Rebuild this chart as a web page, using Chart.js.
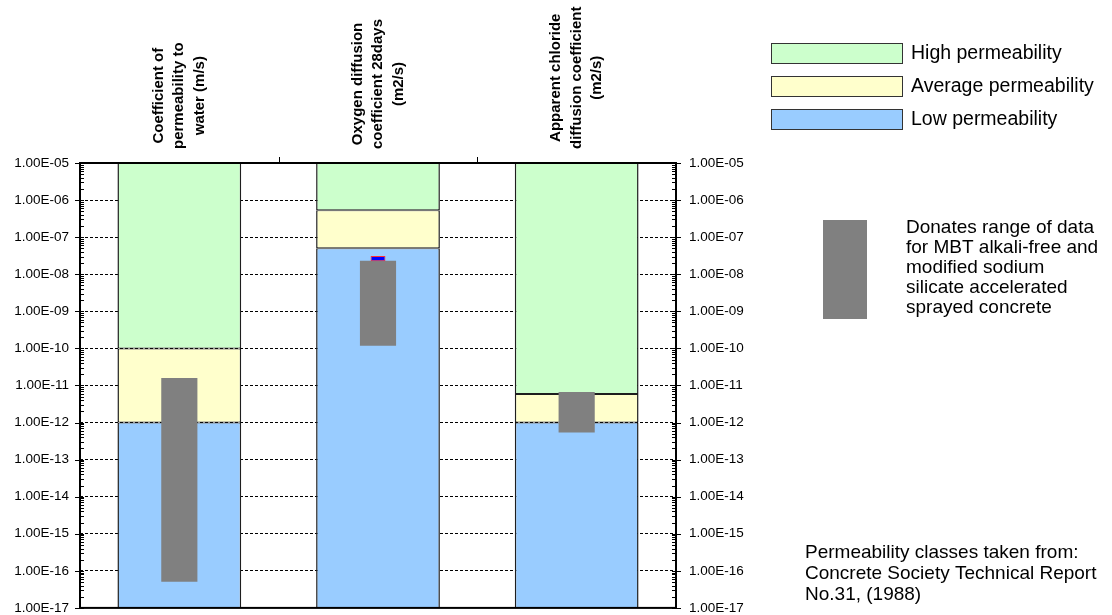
<!DOCTYPE html>
<html>
<head>
<meta charset="utf-8">
<script src="https://cdn.jsdelivr.net/npm/chart.js@4.4.1/dist/chart.umd.min.js"></script>
<style>
  html, body { margin: 0; background: #fff; overflow: hidden; }
  #wrap { width: 1112px; height: 615px; overflow: hidden; }
</style>
</head>
<body>
<div id="wrap"><canvas id="chart" width="1112" height="629"></canvas></div>
<script>
// categories (drawn rotated above the plot)
var categories = [
    ["Coefficient of", "permeability to", "water (m/s)"],
    ["Oxygen diffusion", "coefficient 28days", "(m2/s)"],
    ["Apparent chloride", "diffusion coefficient", "(m2/s)"]
];
var axisMin = 1e-17;
var axisMax = 1e-5;
var yTicks = [1e-5, 1e-6, 1e-7, 1e-8, 1e-9, 1e-10, 1e-11, 1e-12, 1e-13, 1e-14, 1e-15, 1e-16, 1e-17];

// permeability class boundaries
var lowTop = [1e-12, 5.0e-8, 1e-12];
var averageTop = [1e-10, 5.3e-7, 5.9e-12];

// measured data range (grey)
var rangeLow = [5.1e-17, 1.18e-10, 5.4e-13];
var rangeHigh = [1.6e-11, 2.3e-8, 6.7e-12];

// small blue mark on the oxygen bar
var markLow = [null, 2.25e-8, null];
var markHigh = [null, 3.1e-8, null];

var noteText = ["Donates range of data", "for MBT alkali-free and", "modified sodium",
    "silicate accelerated", "sprayed concrete"];
var sourceText = ["Permeability classes taken from:", "Concrete Society Technical Report",
    "No.31, (1988)"];

var FONT = '"Liberation Sans", Arial, sans-serif';

function pairs(a, b) {
    return a.map(function (v, i) { return v === null ? null : [v, b[i]]; });
}
function fmtTick(v) {
    var e = Math.round(Math.log10(v));
    return "1.00E-" + String(-e).padStart(2, "0");
}

var lowBand = lowTop.map(function (v) { return [axisMin, v]; });
var avgBand = pairs(lowTop, averageTop);
var highBand = averageTop.map(function (v) { return [v, axisMax]; });

var bandStyle = {
    grouped: false, barPercentage: 0.623, categoryPercentage: 1,
    borderColor: "#1e1e1e", borderWidth: { left: 1.5, right: 1.5, top: 1, bottom: 1 },
    borderSkipped: false
};

var decor = {
    id: "decor",
    afterDraw: function (chart) {
        var ctx = chart.ctx, a = chart.chartArea, y = chart.scales.y, x = chart.scales.x;
        ctx.save();
        ctx.strokeStyle = "#000";
        ctx.lineWidth = 1;
        ctx.beginPath();
        // minor ticks
        for (var e = -17; e < -5; e++) {
            for (var k = 2; k <= 9; k++) {
                var py = Math.round(y.getPixelForValue(k * Math.pow(10, e))) + 0.5;
                ctx.moveTo(a.left, py); ctx.lineTo(a.left + 4, py);
                ctx.moveTo(a.right - 4, py); ctx.lineTo(a.right, py);
            }
        }
        // major ticks
        yTicks.forEach(function (v) {
            var py = Math.round(y.getPixelForValue(v)) + 0.5;
            ctx.moveTo(a.left - 5, py); ctx.lineTo(a.left + 4, py);
            ctx.moveTo(a.right - 4, py); ctx.lineTo(a.right + 5, py);
        });
        // ticks between categories on top
        for (var i = 1; i < categories.length; i++) {
            var px = Math.round((x.getPixelForValue(i - 1) + x.getPixelForValue(i)) / 2) + 0.5;
            ctx.moveTo(px, a.top); ctx.lineTo(px, a.top - 6);
        }
        ctx.stroke();
        ctx.lineWidth = 2;
        ctx.strokeRect(a.left, a.top, a.right - a.left, a.bottom - a.top);

        // rotated category titles
        ctx.fillStyle = "#000";
        ctx.font = "bold 15px " + FONT;
        ctx.textAlign = "center";
        ctx.textBaseline = "middle";
        categories.forEach(function (lines, i) {
            var w = 0;
            lines.forEach(function (l) { w = Math.max(w, ctx.measureText(l).width); });
            var cx = x.getPixelForValue(i);
            ctx.save();
            ctx.translate(cx, 149 - w / 2);
            ctx.rotate(-Math.PI / 2);
            lines.forEach(function (l, j) {
                ctx.fillText(l, 0, (j - (lines.length - 1) / 2) * 20.5);
            });
            ctx.restore();
        });

        // legend
        var ds = chart.data.datasets;
        var items = [ds[4], ds[3], ds[2]];
        ctx.font = "19.5px " + FONT;
        ctx.textAlign = "left";
        items.forEach(function (d, j) {
            var top = 43 + j * 33;
            ctx.fillStyle = d.backgroundColor;
            ctx.fillRect(771, top, 132, 20);
            ctx.lineWidth = 1;
            ctx.strokeStyle = "#333";
            ctx.strokeRect(771.5, top + 0.5, 131, 20);
            ctx.fillStyle = "#000";
            ctx.fillText(d.label, 911, top + 11);
        });

        // grey range key
        ctx.fillStyle = ds[1].backgroundColor;
        ctx.fillRect(823, 220, 44, 99);
        ctx.fillStyle = "#000";
        ctx.font = "19px " + FONT;
        ctx.textBaseline = "alphabetic";
        noteText.forEach(function (l, j) { ctx.fillText(l, 906, 233 + j * 20); });

        ctx.font = "19px " + FONT;
        ctx.textBaseline = "middle";
        sourceText.forEach(function (l, j) { ctx.fillText(l, 805, 553 + j * 21); });
        ctx.restore();
    }
};

var chart = new Chart(document.getElementById("chart").getContext("2d"), {
    type: "bar",
    data: {
        labels: categories.map(function (c) { return c.join(" "); }),
        datasets: [
            { label: "Mark", data: pairs(markLow, markHigh), grouped: false,
              barPercentage: 0.075, categoryPercentage: 1, backgroundColor: "#0000ff",
              borderColor: "#ff3030", borderWidth: 1, borderSkipped: false },
            { label: "Data range", data: pairs(rangeLow, rangeHigh), grouped: false,
              barPercentage: 0.182, categoryPercentage: 1, backgroundColor: "#808080",
              borderWidth: 0 },
            Object.assign({ label: "Low permeability", data: lowBand, backgroundColor: "#99ccff" }, bandStyle),
            Object.assign({ label: "Average permeability", data: avgBand, backgroundColor: "#ffffcc" }, bandStyle),
            Object.assign({ label: "High permeability", data: highBand, backgroundColor: "#ccffcc" }, bandStyle)
        ]
    },
    options: {
        responsive: false,
        animation: false,
        layout: { padding: { top: 163, bottom: 8, left: 0, right: 0 } },
        plugins: { legend: { display: false }, tooltip: { enabled: false } },
        scales: {
            x: { display: false, offset: true },
            y: {
                type: "logarithmic", position: "left", min: axisMin, max: axisMax,
                afterBuildTicks: function (s) { s.ticks = yTicks.map(function (v) { return { value: v }; }); },
                afterFit: function (s) { s.width = 80; },
                grid: { color: "#000", lineWidth: 1, drawTicks: false },
                border: { display: false, dash: [3, 2] },
                ticks: { callback: fmtTick, color: "#000", padding: 11, autoSkip: false,
                         font: { family: FONT, size: 13.5 } }
            },
            y2: {
                type: "logarithmic", position: "right", min: axisMin, max: axisMax,
                afterBuildTicks: function (s) { s.ticks = yTicks.map(function (v) { return { value: v }; }); },
                afterFit: function (s) { s.width = 436; },
                grid: { drawOnChartArea: false, drawTicks: false },
                border: { display: false },
                ticks: { callback: fmtTick, color: "#000", padding: 13, autoSkip: false,
                         font: { family: FONT, size: 13.5 } }
            }
        }
    },
    plugins: [decor]
});
</script>
</body>
</html>
